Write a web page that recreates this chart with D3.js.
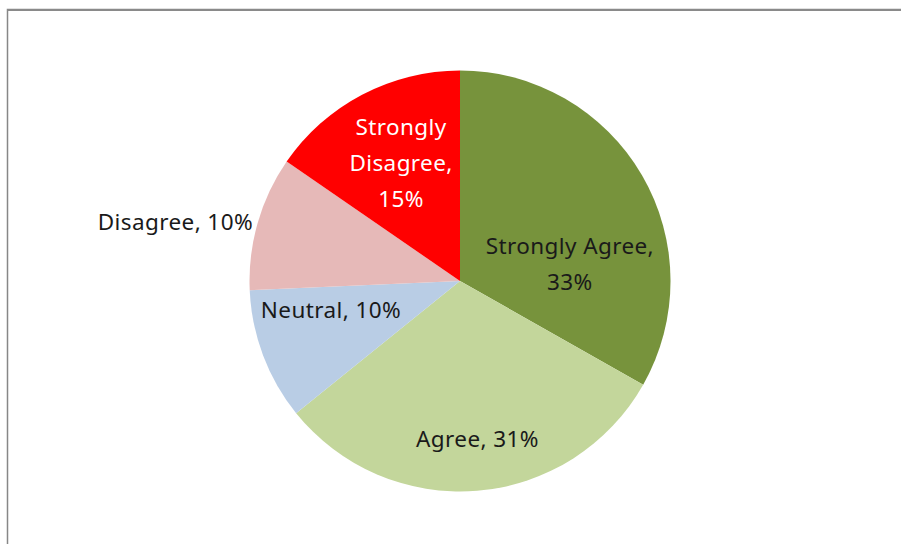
<!DOCTYPE html>
<html>
<head>
<meta charset="utf-8">
<script src="https://cdn.jsdelivr.net/npm/d3@7"></script>
<style>
  html, body { margin: 0; padding: 0; background: #fff; }
  svg { display: block; }
</style>
</head>
<body>
<svg id="chart" width="901" height="544"></svg>
<script>
// Survey responses (share of respondents, %)
const categories = ["Strongly Agree", "Agree", "Neutral", "Disagree", "Strongly Disagree"];
const values = [33.2, 31.0, 10.1, 10.3, 15.4];
const colors = ["#77933C", "#C3D69B", "#B9CDE5", "#E6B9B8", "#FF0000"];
const labelColors = ["#1a1a1a", "#1a1a1a", "#1a1a1a", "#1a1a1a", "#ffffff"];
// Label text lines per slice (category part), value appended below
const labelLines = [["Strongly Agree,"], ["Agree,"], ["Neutral,"], ["Disagree,"], ["Strongly", "Disagree,"]];
const valueOnSameLine = [false, true, true, true, false];
// Label anchor, in units of the radius from the centre
const labelOffsets = [[0.522, -0.08], [0.083, 0.75], [-0.613, 0.136], [-1.352, -0.28], [-0.280, -0.562]];

const W = 901, H = 544;
const cx = 460, cy = 281, R = 210.5;
const lineH = 36;

const svg = d3.select("#chart");

// chart area frame
svg.append("rect")
  .attr("x", 7.5).attr("y", 9.5)
  .attr("width", 1000).attr("height", 1000)
  .attr("fill", "none")
  .attr("stroke", "#878787")
  .attr("stroke-width", 1.5);
svg.append("line")
  .attr("x1", 7).attr("x2", W).attr("y1", 10).attr("y2", 10)
  .attr("stroke", "#8a8a8a").attr("stroke-width", 2);

const pie = d3.pie().sort(null).value(d => d)(values);
const arc = d3.arc().innerRadius(0).outerRadius(R);

const g = svg.append("g").attr("transform", `translate(${cx},${cy})`);

g.selectAll("path.slice")
  .data(pie)
  .join("path")
  .attr("class", "slice")
  .attr("d", arc)
  .attr("fill", (d, i) => colors[i]);

const total = d3.sum(values);
const fmt = v => Math.round(v / total * 100) + "%";

pie.forEach((d, i) => {
  const lines = labelLines[i].slice();
  const pct = fmt(values[i]);
  if (valueOnSameLine[i]) lines[lines.length - 1] += " " + pct;
  else lines.push(pct);
  const [ox, oy] = labelOffsets[i];
  const x = ox * R, y = oy * R;
  const t = g.append("text")
    .attr("text-anchor", "middle")
    .attr("font-family", "'Noto Sans', 'Open Sans', sans-serif")
    .attr("font-size", 22.5)
    .attr("letter-spacing", "0.4px")
    .attr("fill", labelColors[i]);
  lines.forEach((ln, k) => {
    t.append("tspan")
      .attr("x", x)
      .attr("y", y + (k - (lines.length - 1) / 2) * lineH)
      .attr("dy", "0.36em")
      .text(ln);
  });
});
</script>
</body>
</html>
